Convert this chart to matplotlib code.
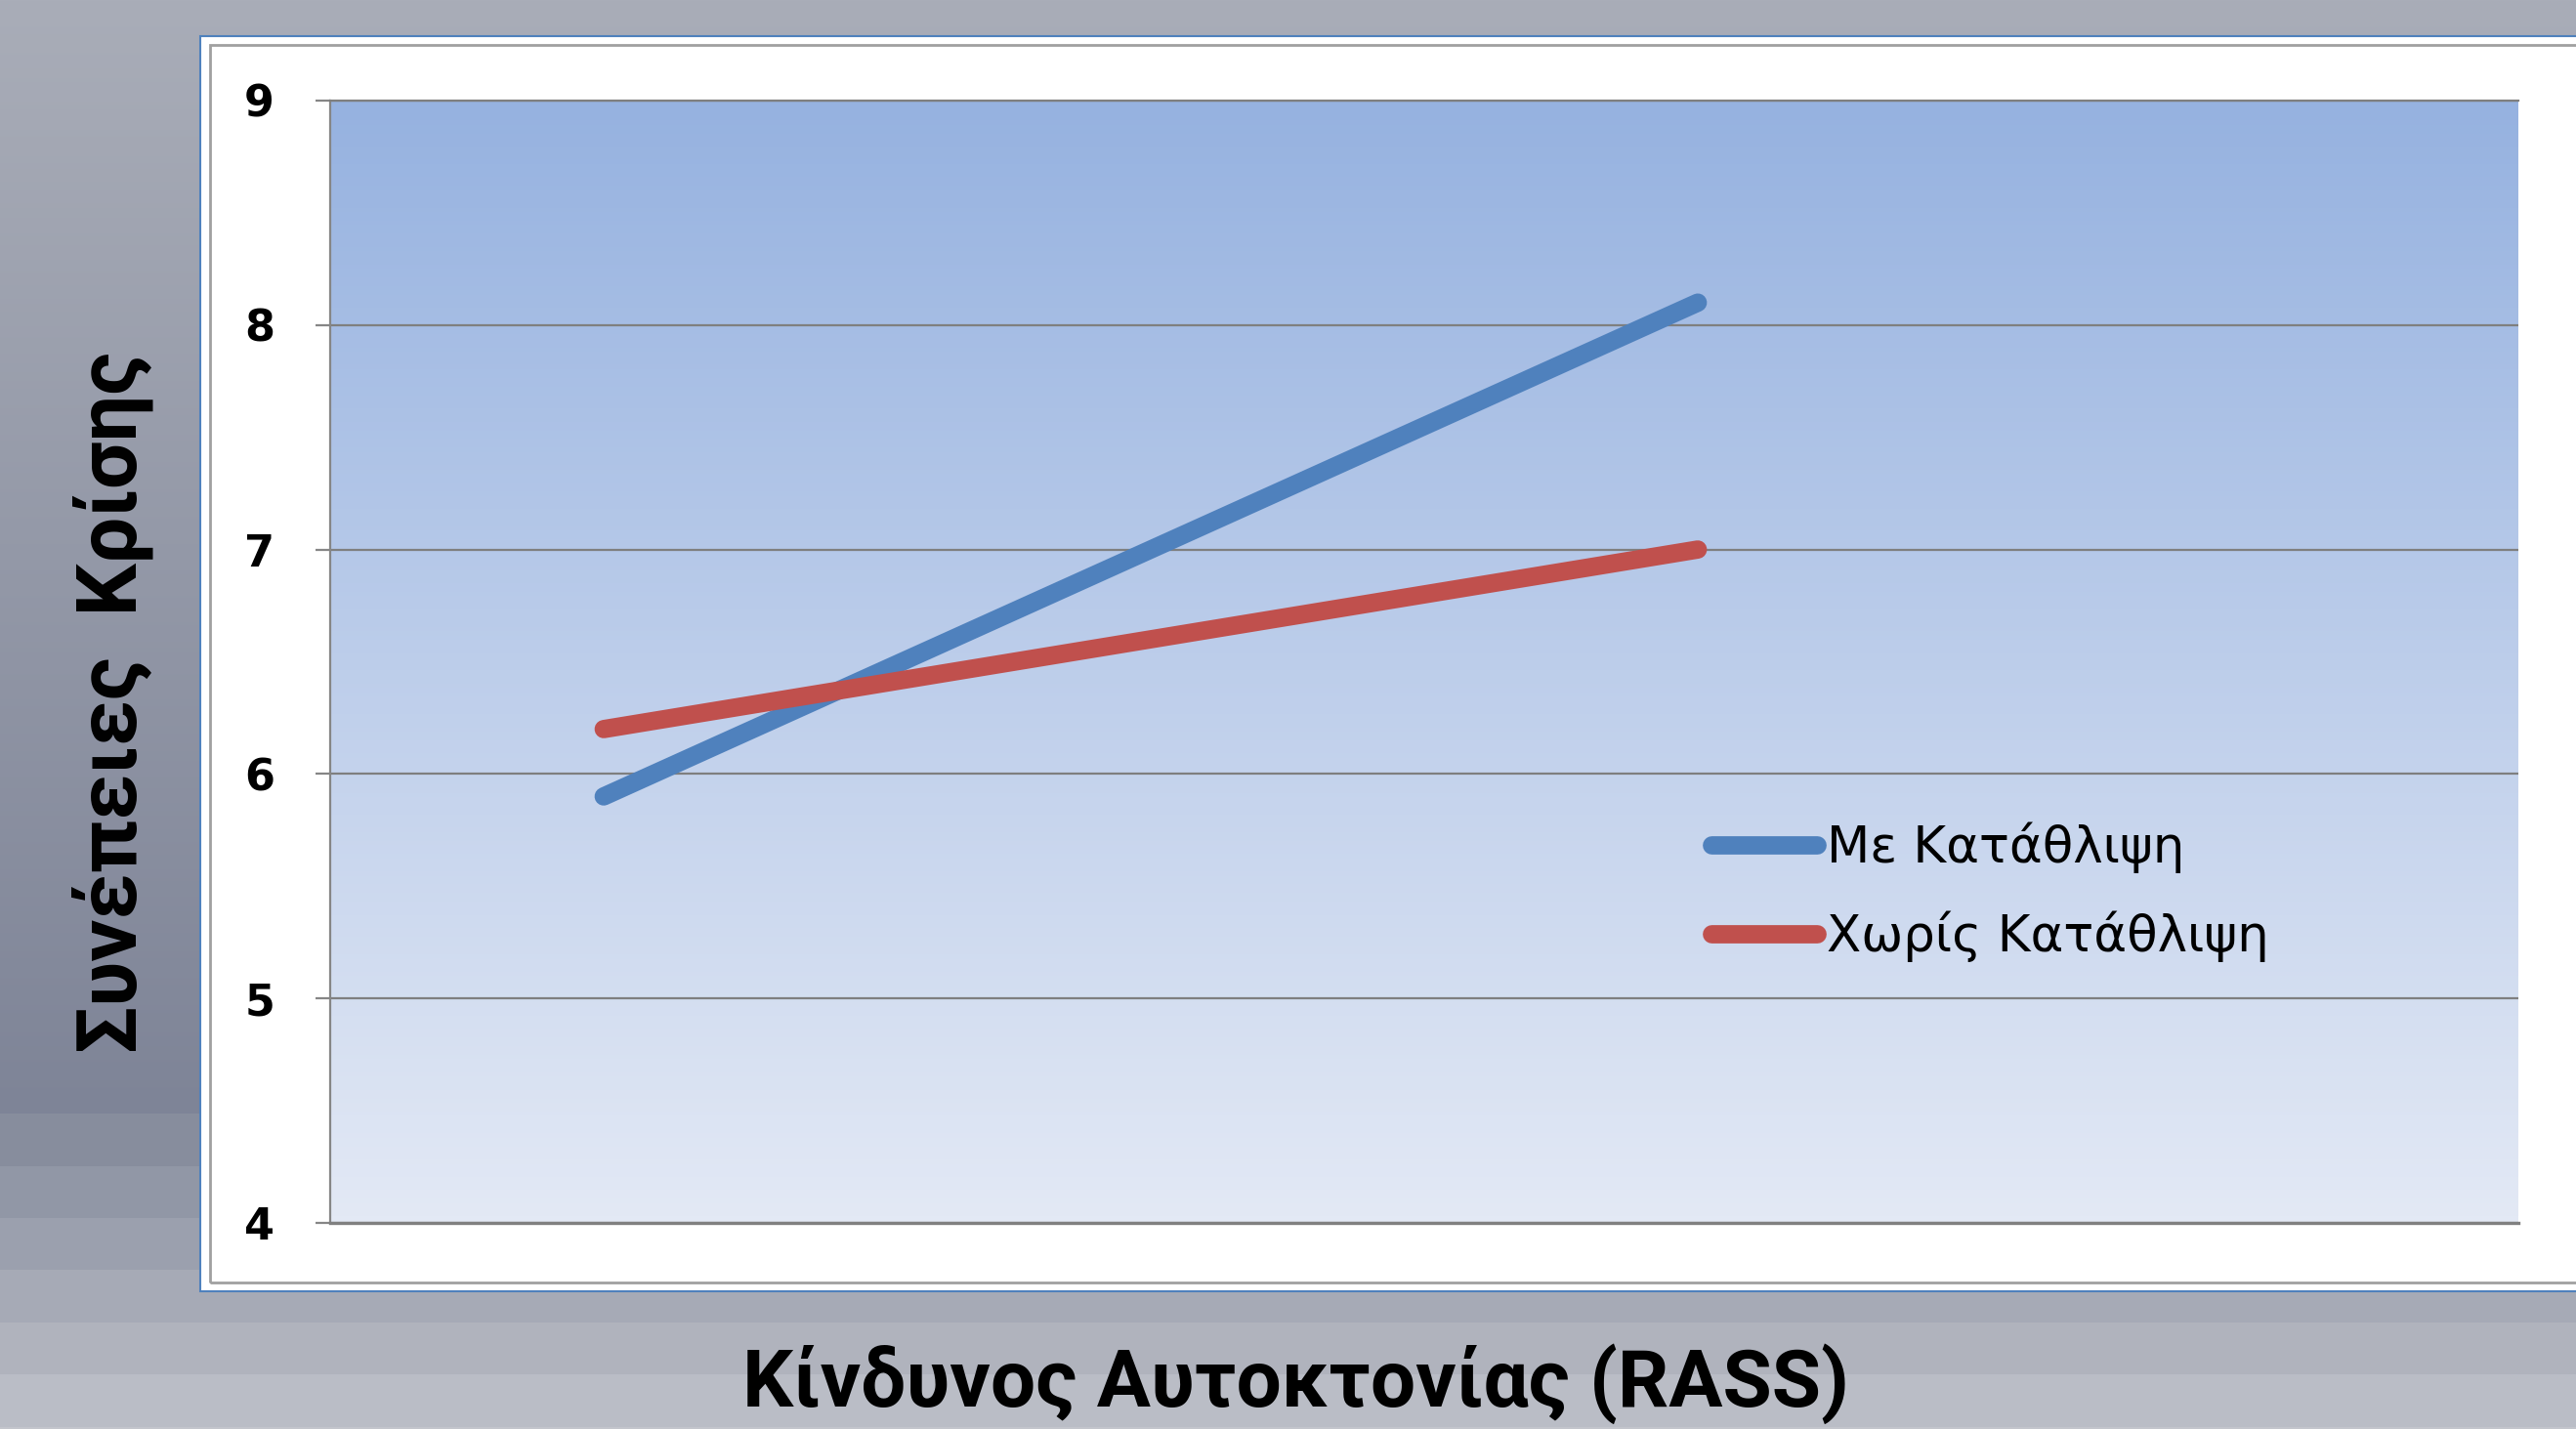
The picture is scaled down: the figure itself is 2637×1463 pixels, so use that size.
import matplotlib
matplotlib.use("Agg")
import matplotlib.pyplot as plt
import numpy as np
from matplotlib.patches import Rectangle
from matplotlib.colors import LinearSegmentedColormap

W, H, DPI = 2637, 1463, 100

# data
rass_pos = [1, 3]
me_katathlipsi = [5.9, 8.1]
xoris_katathlipsi = [6.2, 7.0]
series_names = ["Με Κατάθλιψη", "Χωρίς Κατάθλιψη"]
y_ticks = [4, 5, 6, 7, 8, 9]
xlabel = "Κίνδυνος Αυτοκτονίας (RASS)"
ylabel = "Συνέπειες  Κρίσης"

label_font = ["Liberation Sans Narrow", "Roboto", "DejaVu Sans"]

fig = plt.figure(figsize=(W / DPI, H / DPI), dpi=DPI)

# slide background: vertical gradient, then banded steps at the bottom
def hx(c):
    return np.array([int(c[i:i + 2], 16) for i in (1, 3, 5)]) / 255.0

rows = np.zeros((H, 3))
top_c, dark_c = hx("#a9adb8"), hx("#7e8497")
for r in range(H):
    t = min(r / 1140.0, 1.0)
    rows[r] = top_c * (1 - t) + dark_c * t
band_edges = [1140, 1194, 1247, 1300, 1354, 1407, 1461, H]
band_cols = ["#878d9d", "#9197a6", "#9ba0ae", "#a6aab6", "#b0b3bd", "#babdc6", "#c3c5cc"]
for i, c in enumerate(band_cols):
    rows[band_edges[i]:band_edges[i + 1]] = hx(c)

bg = fig.add_axes([0, 0, 1, 1], zorder=0)
bg.imshow(rows[:, None, :], aspect="auto", extent=[0, 1, 0, 1], interpolation="nearest")
bg.set_xlim(0, 1)
bg.set_ylim(0, 1)
bg.axis("off")

# white chart box
box = Rectangle((205 / W, 1 - 1322 / H), (W + 20 - 205) / W, (1322 - 37) / H,
                transform=fig.transFigure, facecolor="white", edgecolor="#4f81bd",
                lw=1.5, zorder=1)
fig.add_artist(box)
inner = Rectangle((215 / W, 1 - 1313 / H), (W + 20 - 215) / W, (1313 - 46) / H,
                  transform=fig.transFigure, facecolor="none", edgecolor="#a0a0a0",
                  lw=2, zorder=1.1)
fig.add_artist(inner)

# plot area
ax = fig.add_axes([338 / W, 1 - 1252 / H, 2240 / W, 1149 / H], zorder=2)
ax.patch.set_visible(False)
grad = LinearSegmentedColormap.from_list("plotbg", ["#e3e9f5", "#96b2e0"])
ax.imshow(np.linspace(0, 1, 256)[::-1, None], cmap=grad, aspect="auto",
          extent=[0.5, 4.5, 4, 9], zorder=-1, interpolation="bilinear")

ax.plot(rass_pos, me_katathlipsi, color="#4f81bd", lw=13.5,
        solid_capstyle="round", label=series_names[0], zorder=3)
ax.plot(rass_pos, xoris_katathlipsi, color="#c0504d", lw=13.5,
        solid_capstyle="round", label=series_names[1], zorder=3)

ax.set_xlim(0.5, 4.5)
ax.set_ylim(4, 9)
ax.set_yticks(y_ticks)
ax.set_xticks([])
ax.yaxis.grid(True, color="#7f7f7f", lw=1.6)
ax.set_axisbelow(True)
ax.spines["right"].set_visible(False)
ax.spines["top"].set_color("#7f7f7f")
ax.spines["top"].set_linewidth(1.6)
ax.spines["left"].set_color("#868686")
ax.spines["left"].set_linewidth(1.6)
ax.spines["bottom"].set_color("#808080")
ax.spines["bottom"].set_linewidth(2.4)
ax.tick_params(axis="y", length=11, width=1.6, color="#868686", pad=30,
               labelsize=32)
for t in ax.get_yticklabels():
    t.set_fontweight("bold")

leg = ax.legend(loc="center left", bbox_to_anchor=(1752 / W, 1 - 913.5 / H),
                bbox_transform=fig.transFigure, frameon=False, fontsize=37,
                borderpad=0, borderaxespad=0, handlelength=2.1,
                handletextpad=0.2, labelspacing=0.75)

fig.text(140 / W, 1 - 719 / H, ylabel, rotation=90, rotation_mode="anchor",
         ha="center", va="baseline", fontsize=61, fontweight="bold",
         family=label_font, zorder=3)
fig.text(1326 / W, 1 - 1440 / H, xlabel, ha="center", va="baseline",
         fontsize=59, fontweight="bold", family=label_font, zorder=3)

fig.savefig("out.png", dpi=DPI)
